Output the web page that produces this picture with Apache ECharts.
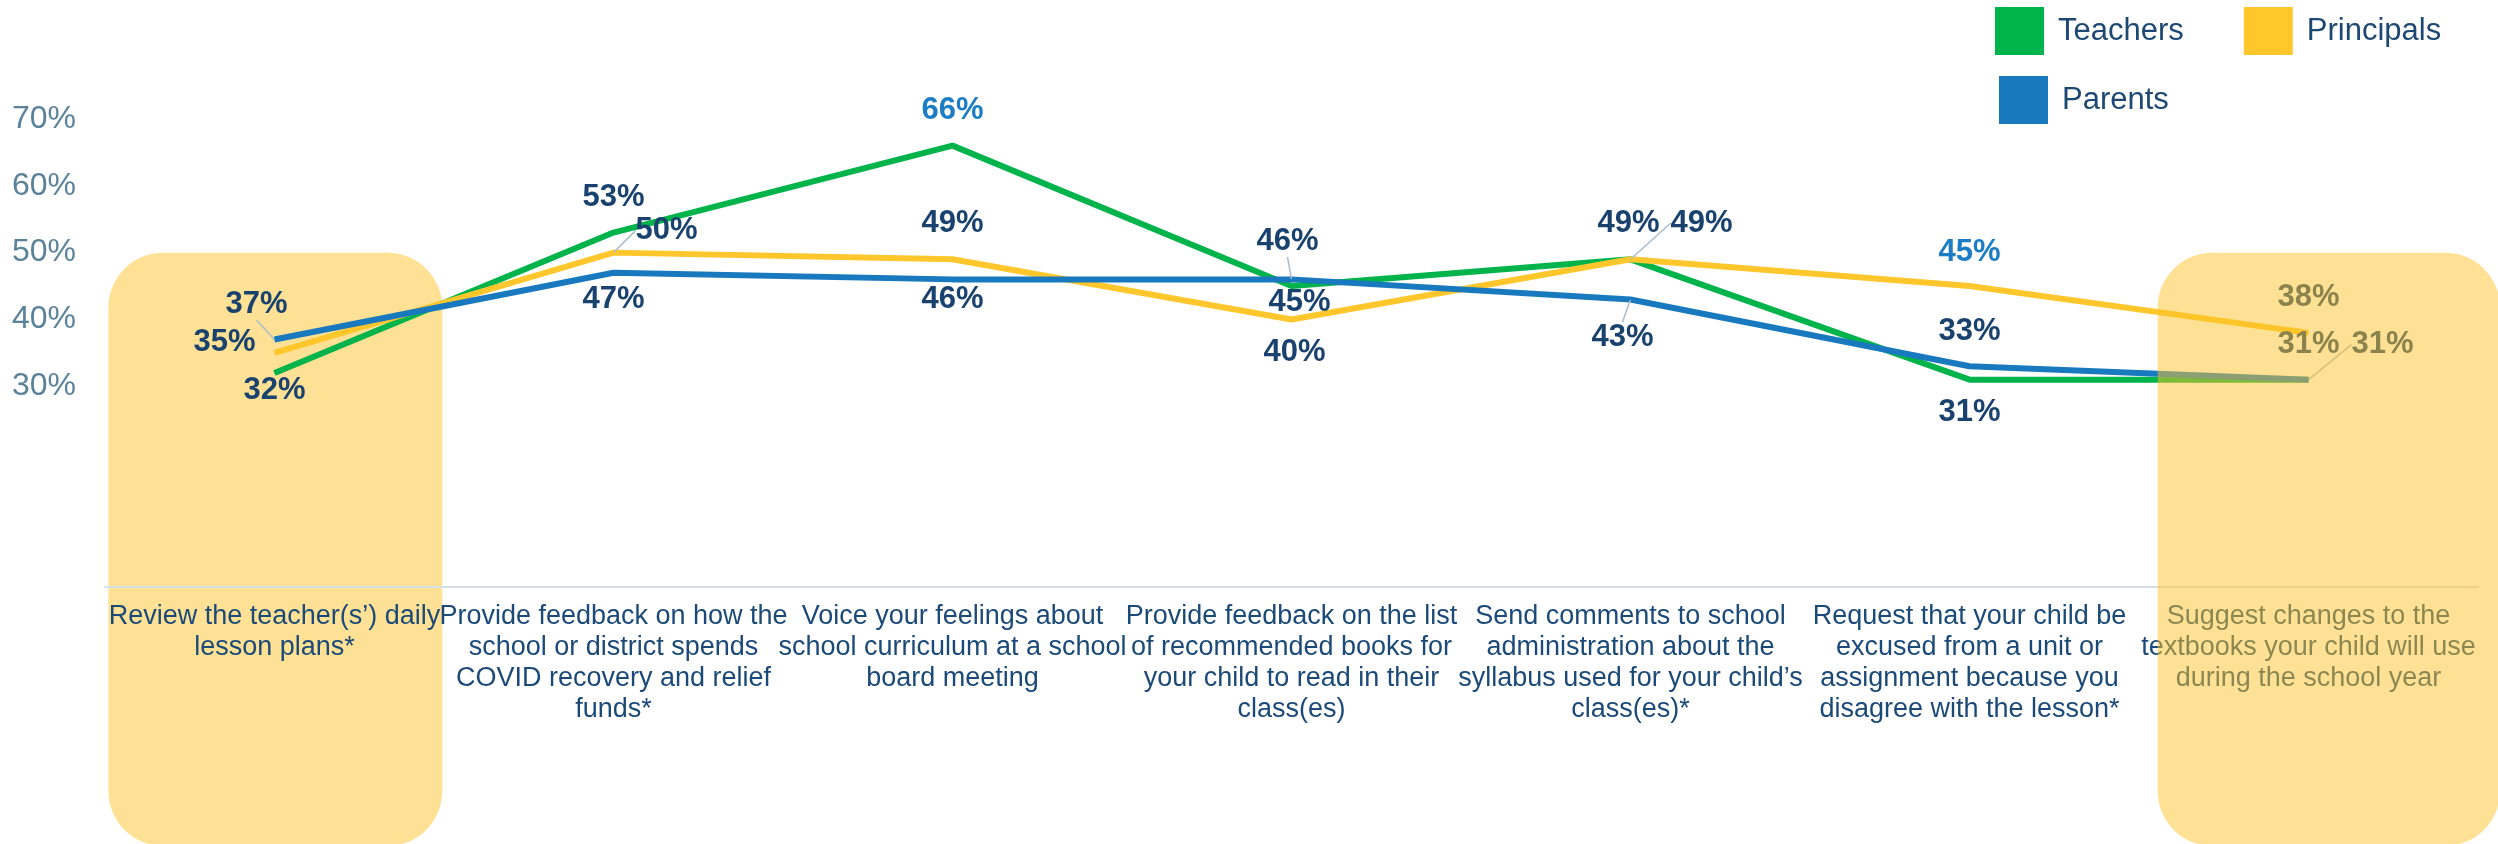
<!DOCTYPE html>
<html>
<head>
<meta charset="utf-8">
<script src="https://cdn.jsdelivr.net/npm/echarts@6/dist/echarts.min.js"></script>
<style>
  html, body { margin: 0; padding: 0; background: #fff; }
  #chart { width: 2498px; height: 844px; }
</style>
</head>
<body>
<div id="chart"></div>
<script>
  // categories (tick labels, wrapped as in the source)
  const categories = [
    "Review the teacher(s\u2019) daily\nlesson plans*",
    "Provide feedback on how the\nschool or district spends\nCOVID recovery and relief\nfunds*",
    "Voice your feelings about\nschool curriculum at a school\nboard meeting",
    "Provide feedback on the list\nof recommended books for\nyour child to read in their\nclass(es)",
    "Send comments to school\nadministration about the\nsyllabus used for your child\u2019s\nclass(es)*",
    "Request that your child be\nexcused from a unit or\nassignment because you\ndisagree with the lesson*",
    "Suggest changes to the\ntextbooks your child will use\nduring the school year"
  ];
  const teachers = [32, 53, 66, 45, 49, 31, 31];
  const principals = [35, 50, 49, 40, 49, 45, 38];
  const parents = [37, 47, 46, 46, 43, 33, 31];
  const yTickLabels = [30, 40, 50, 60, 70];

  // label placement (dx, dy from the point), leader lines, highlighted labels
  const labelShift = {
    Teachers: [[0, 17], [0, -35], [0, -35], [8, 16], [-2, -36], [0, 33], [0, -35]],
    Principals: [[-50, -10], [53, -22], [0, -36], [3, 33], [71, -36], [0, -34], [0, -35]],
    Parents: [[-18, -35], [0, 27], [0, 20], [-4, -38], [-8, 38], [0, -35], [74, -35]]
  };
  const leaders = { Teachers: [], Principals: [1, 4], Parents: [0, 3, 4, 6] };
  const lightLabels = { Teachers: [2], Principals: [5], Parents: [] };

  const colors = { Teachers: '#00B34A', Principals: '#FFC72C', Parents: '#1979BE' };
  const navy = '#1A426F';

  const chart = echarts.init(document.getElementById('chart'));

  function makeSeries(name, values) {
    return {
      name: name,
      type: 'line',
      data: values.map((v, i) => ({
        value: v,
        label: { color: lightLabels[name].includes(i) ? '#1C7DC4' : navy },
        labelLine: { show: leaders[name].includes(i) }
      })),
      symbol: 'circle',
      symbolSize: 1,
      showSymbol: true,
      lineStyle: { width: 6, color: colors[name] },
      itemStyle: { color: colors[name] },
      label: {
        show: true,
        position: 'inside',
        formatter: '{c}%',
        fontSize: 31,
        fontWeight: 'bold',
        fontFamily: 'Liberation Sans, Arial, sans-serif'
      },
      labelLine: {
        show: false,
        lineStyle: { color: '#A9BCCB', width: 1.5 }
      },
      labelLayout: function (p) {
        const s = labelShift[name][p.dataIndex];
        return { dx: s[0], dy: s[1] };
      },
      emphasis: { disabled: true },
      animation: false
    };
  }

  const option = {
    animation: false,
    textStyle: { fontFamily: 'Liberation Sans, Arial, sans-serif' },
    color: [colors.Teachers, colors.Principals, colors.Parents],
    legend: [
      {
        data: ['Teachers', 'Principals'],
        left: 1990,
        top: 2,
        icon: 'rect',
        itemWidth: 49,
        itemHeight: 48,
        itemGap: 60,
        textStyle: { fontSize: 31, color: '#1C4873', padding: [0, 0, 0, 9] }
      },
      {
        data: ['Parents'],
        left: 1994,
        top: 71,
        icon: 'rect',
        itemWidth: 49,
        itemHeight: 48,
        textStyle: { fontSize: 31, color: '#1C4873', padding: [0, 0, 0, 9] }
      }
    ],
    grid: { left: 105, right: 20, top: 52, bottom: 257 },
    xAxis: {
      type: 'category',
      data: categories,
      axisLine: { lineStyle: { color: '#D6DFE6', width: 2 } },
      axisTick: { show: false },
      axisLabel: {
        interval: 0,
        fontSize: 27,
        lineHeight: 31,
        color: '#1B4A78',
        margin: 14
      }
    },
    yAxis: {
      type: 'value',
      min: 0,
      max: 80,
      interval: 10,
      axisLine: { show: false },
      axisTick: { show: false },
      splitLine: { show: false },
      axisLabel: {
        fontSize: 32,
        color: '#5A829B',
        margin: 29,
        formatter: v => yTickLabels.includes(v) ? v + '%' : ''
      }
    },
    series: [
      makeSeries('Teachers', teachers),
      makeSeries('Principals', principals),
      makeSeries('Parents', parents)
    ]
  };

  chart.setOption(option);

  // rounded highlight boxes behind the first category and over the last one
  const xFirst = chart.convertToPixel({ xAxisIndex: 0 }, 0);
  const xSecond = chart.convertToPixel({ xAxisIndex: 0 }, 1);
  const xLast = chart.convertToPixel({ xAxisIndex: 0 }, categories.length - 1);
  const band = xSecond - xFirst;
  const boxTop = chart.convertToPixel({ yAxisIndex: 0 }, 50);
  const boxBottom = chart.getHeight() + 2;

  chart.setOption({
    graphic: [
      {
        type: 'rect',
        z: -1,
        silent: true,
        shape: { x: xFirst - band * 0.49, y: boxTop, width: band * 0.985, height: boxBottom - boxTop, r: 55 },
        style: { fill: '#FEE194' }
      },
      {
        type: 'rect',
        z: 100,
        silent: true,
        shape: { x: xLast - band * 0.445, y: boxTop, width: band * 1.01, height: boxBottom - boxTop, r: 55 },
        style: { fill: 'rgba(253,195,41,0.5)' }
      }
    ]
  });
</script>
</body>
</html>
